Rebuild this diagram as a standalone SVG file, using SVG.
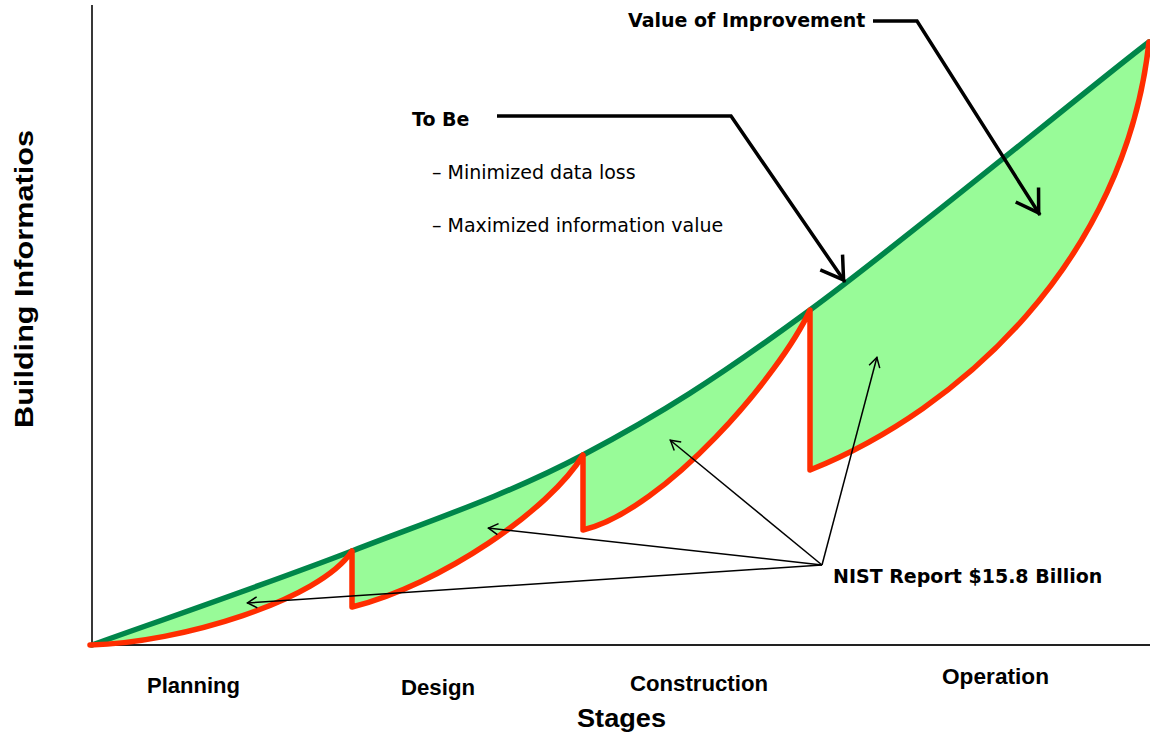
<svg xmlns="http://www.w3.org/2000/svg" width="1150" height="740" viewBox="0 0 1150 740">
  <style>
    .bold { font-family: "DejaVu Sans", "Liberation Sans", sans-serif; font-weight: bold; font-size: 19px; fill: #000; }
    .reg { font-family: "DejaVu Sans", "Liberation Sans", sans-serif; font-size: 19px; fill: #000; }
    .stage { font-family: "Liberation Sans", Arial, sans-serif; font-weight: bold; font-size: 22px; fill: #000; }
    .axis { stroke: #222; stroke-width: 1.8; fill: none; }
    .area { fill: #98fb98; stroke: none; }
    .green { fill: none; stroke: #00864a; stroke-width: 5.5; stroke-linejoin: round; stroke-linecap: round; }
    .red { fill: none; stroke: #ff2d00; stroke-width: 5.5; stroke-linejoin: round; stroke-linecap: round; }
    .thick { fill: none; stroke: #000; stroke-width: 3.5; stroke-linejoin: miter; }
    .thin { fill: none; stroke: #000; stroke-width: 1.5; }
  </style>
  <defs>
    <marker id="headThick" viewBox="-30 -16 36 32" markerWidth="36" markerHeight="32" refX="0" refY="0" orient="auto" markerUnits="userSpaceOnUse">
      <path d="M-24,-13.5 L-2.5,0 L-24,13.5" fill="none" stroke="#000" stroke-width="3.5" stroke-linejoin="miter"/>
    </marker>
    <marker id="headThin" viewBox="-14 -8 16 16" markerWidth="16" markerHeight="16" refX="0" refY="0" orient="auto" markerUnits="userSpaceOnUse">
      <path d="M-10,-5.5 L-0.5,0 L-10,5.5" fill="none" stroke="#000" stroke-width="1.5"/>
    </marker>
  </defs>

  <g id="axes">
    <line class="axis" x1="92" y1="5" x2="92" y2="645"/>
    <line class="axis" x1="92" y1="645" x2="1150" y2="645"/>
  </g>

  <g id="chart">
    <path id="value-area" class="area" d="M92,645 C135.3,629.3 270.2,582.7 352,551 C433.8,519.3 506.7,495.2 583,455 C659.3,414.8 715.7,379.2 810,310 C904.3,240.8 1092.5,85 1149,42 C1125,260 960,410 810,470 L810,310 C780,375 665,510 583,530 L583,455 C550,510 440,585 352,607 L352,551 C320,600 180,643 92,645 Z"/>
    <path id="to-be-curve" class="green" d="M92,645 C135.3,629.3 270.2,582.7 352,551 C433.8,519.3 506.7,495.2 583,455 C659.3,414.8 715.7,379.2 810,310 C904.3,240.8 1092.5,85 1149,42"/>
    <path id="as-is-curve" class="red" d="M90,645 C180,643 320,600 352,551 L352,607 C440,585 550,510 583,455 L583,530 C665,510 780,375 810,310 L810,470 C960,410 1125,260 1149,42"/>
  </g>

  <g id="connectors">
    <path class="thick" d="M873,21 L917,21 L1040,215" marker-end="url(#headThick)"/>
    <path class="thick" d="M497,116 L731,116 L845,282" marker-end="url(#headThick)"/>
    <path class="thin" d="M822,565 L670,440" marker-end="url(#headThin)"/>
    <path class="thin" d="M822,565 L488,528" marker-end="url(#headThin)"/>
    <path class="thin" d="M822,565 L247,603" marker-end="url(#headThin)"/>
    <path class="thin" d="M822,565 L877,357" marker-end="url(#headThin)"/>
  </g>

  <g id="value-of-improvement"><text class="bold" x="628" y="26.5">Value of Improvement</text></g>
  <g id="to-be">
    <text class="bold" x="412" y="126">To Be</text>
    <text class="reg" x="432" y="179">– Minimized data loss</text>
    <text class="reg" x="432" y="231.5">– Maximized information value</text>
  </g>
  <g id="nist-report"><text class="bold" x="833" y="583">NIST Report $15.8 Billion</text></g>

  <g id="stage-labels">
    <text class="stage" x="147" y="693" textLength="93" lengthAdjust="spacingAndGlyphs">Planning</text>
    <text class="stage" x="401" y="695" textLength="74" lengthAdjust="spacingAndGlyphs">Design</text>
    <text class="stage" x="630" y="691" textLength="138" lengthAdjust="spacingAndGlyphs">Construction</text>
    <text class="stage" x="942" y="684" textLength="107" lengthAdjust="spacingAndGlyphs">Operation</text>
  </g>
  <g id="x-axis-title"><text class="stage" x="577" y="727" font-size="26" style="font-size:26px" textLength="89" lengthAdjust="spacingAndGlyphs">Stages</text></g>
  <g id="y-axis-title"><text class="stage" transform="translate(33,428) rotate(-90)" x="0" y="0" style="font-size:26px" textLength="298" lengthAdjust="spacingAndGlyphs">Building Informatios</text></g>
</svg>
